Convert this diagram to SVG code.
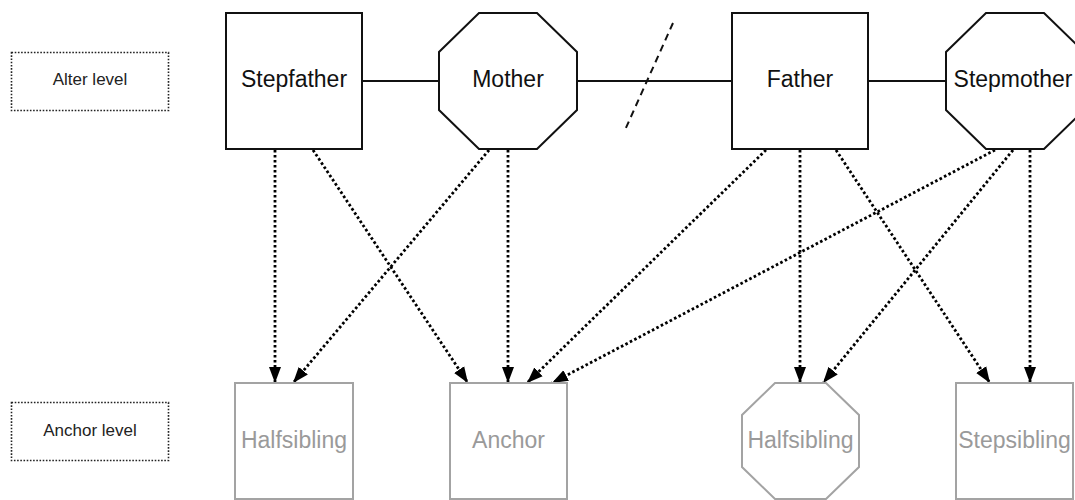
<svg xmlns="http://www.w3.org/2000/svg" width="1075" height="500" viewBox="0 0 1075 500">
<style>
.bg{fill:#ffffff}
.level{fill:#ffffff;stroke:#222;stroke-width:1.6;stroke-dasharray:1.6 1.6}
.levelText{font-family:"Liberation Sans",Arial,sans-serif;font-size:17px;fill:#222;text-anchor:middle}
.alter{fill:#ffffff;stroke:#111;stroke-width:2}
.alterText{font-family:"Liberation Sans",Arial,sans-serif;font-size:23px;fill:#111;text-anchor:middle}
.anchor{fill:#ffffff;stroke:#a3a3a3;stroke-width:2}
.anchorText{font-family:"Liberation Sans",Arial,sans-serif;font-size:23px;fill:#9a9a9a;text-anchor:middle}
.tie{stroke:#111;stroke-width:2;fill:none}
.split{stroke:#111;stroke-width:2;fill:none;stroke-dasharray:7 5}
.dot{stroke:#000;stroke-width:2.8;fill:none;stroke-dasharray:2.6 2.4}
</style>
<defs>
<marker id="arrow" markerUnits="userSpaceOnUse" markerWidth="17" markerHeight="13" refX="16" refY="6.5" orient="auto">
<path d="M0,0.5 L16,6.5 L0,12.5 z" fill="#000"/>
</marker>
</defs>
<rect class="bg" x="0" y="0" width="1075" height="500"/>

<g id="level-alter">
<rect class="level" x="11.5" y="52.5" width="157" height="58"/>
<text class="levelText" x="90" y="85">Alter level</text>
</g>
<g id="level-anchor">
<rect class="level" x="11.5" y="402.5" width="157" height="58"/>
<text class="levelText" x="90" y="436">Anchor level</text>
</g>

<g id="connectors">
<line class="tie" x1="362" y1="81" x2="439" y2="81"/>
<line class="tie" x1="577" y1="81" x2="732" y2="81"/>
<line class="tie" x1="868" y1="81" x2="946" y2="81"/>
<line class="split" x1="673" y1="23" x2="625" y2="130"/>
<line class="dot" x1="275" y1="150" x2="275" y2="383" marker-end="url(#arrow)"/>
<line class="dot" x1="313" y1="150" x2="468" y2="383" marker-end="url(#arrow)"/>
<line class="dot" x1="489" y1="150" x2="293" y2="383" marker-end="url(#arrow)"/>
<line class="dot" x1="508" y1="150" x2="508" y2="383" marker-end="url(#arrow)"/>
<line class="dot" x1="766" y1="150" x2="527" y2="383" marker-end="url(#arrow)"/>
<line class="dot" x1="800" y1="150" x2="800" y2="383" marker-end="url(#arrow)"/>
<line class="dot" x1="836" y1="150" x2="990" y2="383" marker-end="url(#arrow)"/>
<line class="dot" x1="995" y1="150" x2="552" y2="383" marker-end="url(#arrow)"/>
<line class="dot" x1="1013" y1="150" x2="823" y2="383" marker-end="url(#arrow)"/>
<line class="dot" x1="1030" y1="150" x2="1030" y2="383" marker-end="url(#arrow)"/>
</g>

<g id="stepfather">
<rect class="alter" x="226" y="13" width="136" height="136"/>
<text class="alterText" x="294" y="87">Stepfather</text>
</g>
<g id="mother">
<polygon class="alter" points="479,13 537,13 577,52 577,110 537,149 479,149 439,110 439,52"/>
<text class="alterText" x="508" y="87">Mother</text>
</g>
<g id="father">
<rect class="alter" x="732" y="13" width="136" height="136"/>
<text class="alterText" x="800" y="87">Father</text>
</g>
<g id="stepmother">
<polygon class="alter" points="986,13 1044,13 1084,52 1084,110 1044,149 986,149 946,110 946,52"/>
<text class="alterText" x="1013" y="87">Stepmother</text>
</g>

<g id="halfsibling-1">
<rect class="anchor" x="235" y="383" width="118" height="116"/>
<text class="anchorText" x="294" y="448">Halfsibling</text>
</g>
<g id="anchor">
<rect class="anchor" x="450" y="383" width="117" height="116"/>
<text class="anchorText" x="508.5" y="448">Anchor</text>
</g>
<g id="halfsibling-2">
<polygon class="anchor" points="775,383 826,383 859,415 859,467 826,499 775,499 742,467 742,415"/>
<text class="anchorText" x="800.5" y="448">Halfsibling</text>
</g>
<g id="stepsibling">
<rect class="anchor" x="956" y="383" width="117" height="116"/>
<text class="anchorText" x="1014.5" y="448">Stepsibling</text>
</g>
</svg>
